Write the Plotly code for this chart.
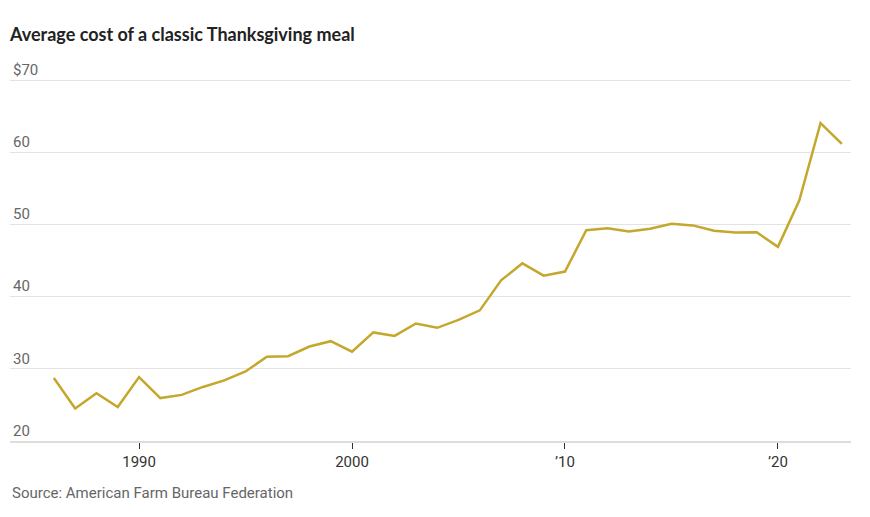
import plotly.graph_objects as go

years = list(range(1986, 2024))
cost = [28.74, 24.51, 26.61, 24.70, 28.85, 25.95, 26.39, 27.49, 28.40, 29.64,
        31.66, 31.75, 33.09, 33.83, 32.37, 35.04, 34.56, 36.28, 35.68, 36.78,
        38.10, 42.26, 44.61, 42.91, 43.47, 49.20, 49.48, 49.04, 49.41, 50.11,
        49.87, 49.12, 48.90, 48.91, 46.90, 53.31, 64.05, 61.17]

x_tickvals = [1990, 2000, 2010, 2020]
x_ticktext = ["1990", "2000", "\u201910", "\u201920"]
y_tickvals = [20, 30, 40, 50, 60, 70]
y_ticktext = ["20", "30", "40", "50", "60", "$70"]

font_fam = "Roboto, Arial, sans-serif"

fig = go.Figure()
fig.add_trace(go.Scatter(x=years, y=cost, mode="lines",
                         line=dict(color="#C4A72D", width=2.5),
                         hoverinfo="x+y"))

fig.update_layout(
    width=870, height=517,
    paper_bgcolor="white", plot_bgcolor="white",
    margin=dict(l=2, r=27, t=36, b=84, autoexpand=False),
    showlegend=False,
    font=dict(family=font_fam, color="#666", size=15),
    title=dict(text="<b>Average cost of a classic Thanksgiving meal</b>",
               x=0, xref="paper", xanchor="left", y=0.948, yanchor="middle",
               font=dict(family="Lato, Roboto, sans-serif", size=18, color="#222")),
    xaxis=dict(range=[1983.94, 2023.43], tickvals=x_tickvals, ticktext=x_ticktext,
               showgrid=False, zeroline=False, showline=True, linecolor="#ddd",
               linewidth=1.5, ticks="outside", ticklen=6, tickcolor="#333",
               tickwidth=1, automargin=False,
               tickfont=dict(color="#333", size=15, family=font_fam)),
    yaxis=dict(range=[20, 75], tickvals=y_tickvals, ticktext=y_ticktext,
               showgrid=True, gridcolor="#e3e3e3", gridwidth=1, zeroline=False,
               ticklabelposition="inside top", showline=False, automargin=False,
               tickfont=dict(color="#666", size=15, family=font_fam)),
    annotations=[dict(text="Source: American Farm Bureau Federation",
                      x=0, xref="paper", y=-0.131, yref="paper",
                      xanchor="left", yanchor="middle", showarrow=False,
                      font=dict(size=15, color="#666", family=font_fam))],
)

fig.write_html("out.html")
